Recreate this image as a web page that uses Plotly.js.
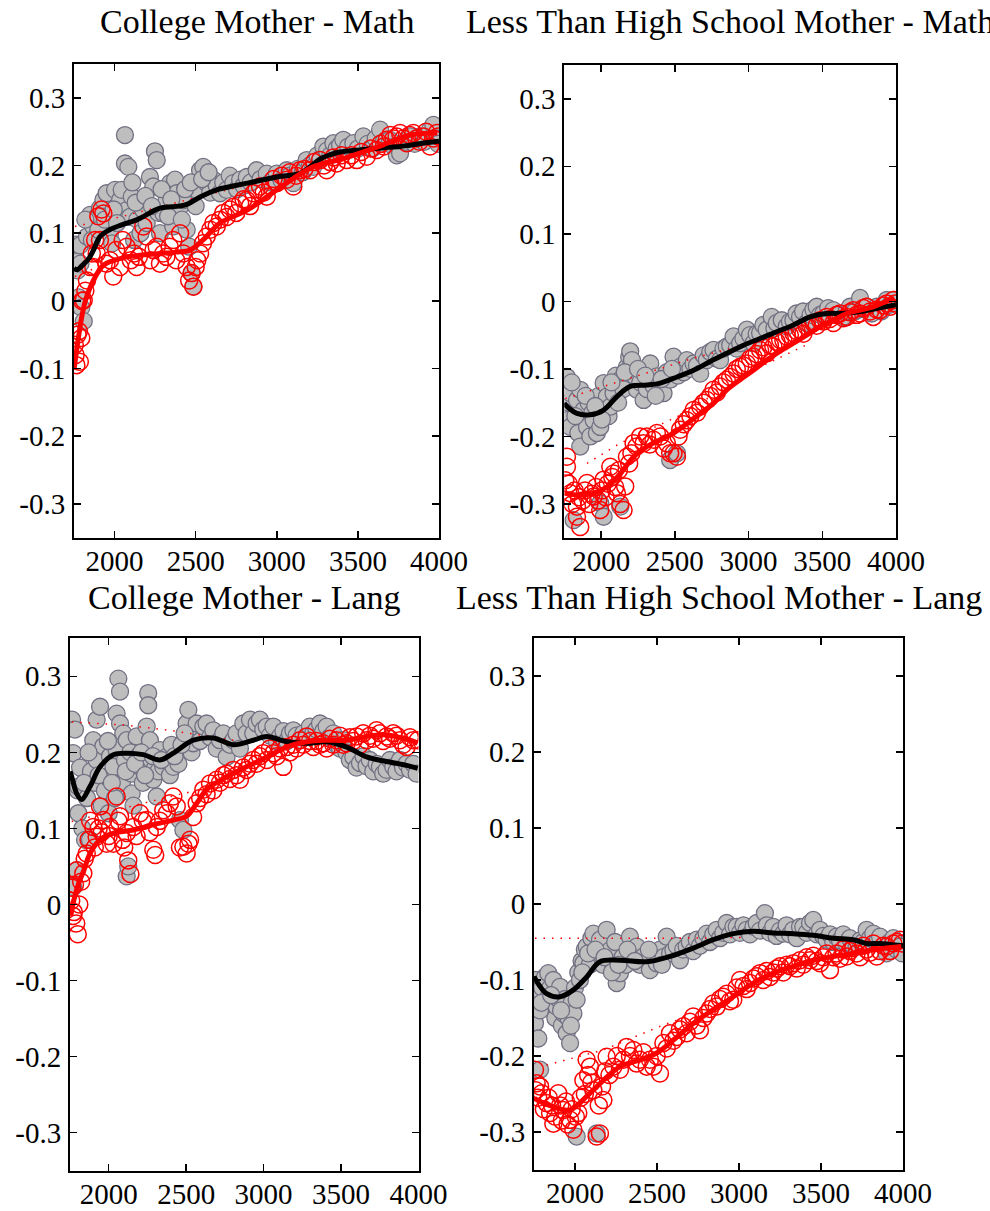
<!DOCTYPE html>
<html>
<head>
<meta charset="utf-8">
<script src="https://cdn.plot.ly/plotly-3.0.1.min.js"></script>
<style>html,body{margin:0;padding:0;background:#fff}#chart{width:990px;height:1211px}</style>
</head>
<body>
<div id="chart"></div>
<script>
// ---------- titles & ticks ----------
const panelTitles = ["College Mother - Math", "Less Than High School Mother - Math", "College Mother - Lang", "Less Than High School Mother - Lang"];
const xTickVals = [2000, 2500, 3000, 3500, 4000];
const yTickVals = [-0.3, -0.2, -0.1, 0, 0.1, 0.2, 0.3];
const yTickText = ["-0.3", "-0.2", "-0.1", "0", "0.1", "0.2", "0.3"];

// ---------- Panel 1: College Mother - Math ----------
const p1GrayX = [1758,1765,1772,1780,1787,1790,1795,1810,1830,1849,1869,1890,1910,1931,1951,1972,1985,2003,2034,2044,2055,2064,2064,2075,2085,2095,2106,2120,2140,2160,2177,2198,2218,2239,2249,2260,2270,2280,2301,2321,2342,2362,2373,2383,2404,2424,2445,2460,2475,2486,2500,2506,2527,2547,2568,2590,2609,2630,2650,2670,2691,2710,2732,2755,2774,2795,2815,2840,2876,2900,2938,2960,3000,3030,3061,3080,3102,3130,3160,3184,3205,3225,3250,3270,3287,3310,3330,3349,3370,3390,3410,3440,3472,3500,3534,3560,3590,3610,3637,3660,3698,3720,3740,3760,3790,3821,3850,3883,3910,3945,3965,3980,3995,1820,1860,1900,1940,1995,2015,2110,2130,2190,2230,2290,2330,2350,2415,2435,2470,2540,2580];
const p1GrayY = [0.060,0.083,0.045,0.005,0.082,0.055,-0.010,-0.030,0.095,0.127,0.110,0.124,0.137,0.149,0.159,0.100,0.085,0.164,0.149,0.164,0.130,0.245,0.203,0.134,0.198,0.124,0.154,0.090,0.120,0.100,0.134,0.115,0.183,0.169,0.221,0.208,0.130,0.100,0.129,0.149,0.174,0.110,0.179,0.159,0.139,0.149,0.105,0.080,0.041,0.021,0.140,0.164,0.193,0.198,0.174,0.160,0.179,0.170,0.159,0.175,0.164,0.185,0.174,0.165,0.179,0.170,0.183,0.175,0.193,0.180,0.188,0.175,0.188,0.178,0.193,0.185,0.174,0.195,0.190,0.208,0.200,0.198,0.215,0.210,0.228,0.222,0.215,0.233,0.225,0.230,0.238,0.228,0.233,0.225,0.243,0.232,0.225,0.240,0.253,0.235,0.238,0.228,0.215,0.218,0.235,0.243,0.232,0.243,0.235,0.253,0.260,0.240,0.232,0.120,0.090,0.105,0.120,0.135,0.115,0.175,0.145,0.155,0.140,0.165,0.125,0.150,0.120,0.165,0.175,0.180,0.190];
const p1RedX = [1755,1760,1765,1772,1780,1786,1795,1800,1810,1820,1830,1849,1860,1869,1880,1890,1900,1910,1920,1931,1950,1972,1992,2010,2034,2050,2075,2100,2120,2136,2150,2177,2198,2220,2240,2260,2280,2300,2320,2340,2362,2380,2404,2424,2445,2460,2475,2486,2500,2510,2527,2545,2568,2590,2609,2630,2650,2670,2691,2710,2732,2750,2774,2795,2815,2835,2856,2875,2897,2920,2938,2960,2980,3000,3030,3061,3080,3102,3120,3143,3170,3205,3230,3266,3290,3308,3330,3349,3369,3400,3431,3460,3493,3520,3554,3580,3616,3640,3660,3678,3700,3720,3739,3760,3780,3801,3820,3842,3860,3880,3904,3920,3945,3965,3986,3995];
const p1RedY = [-0.065,-0.080,-0.095,-0.050,-0.045,-0.090,-0.055,0.000,0.001,0.015,0.030,0.050,0.070,0.050,0.090,0.070,0.125,0.090,0.135,0.129,0.055,0.060,0.036,0.075,0.050,0.090,0.080,0.060,0.070,0.050,0.065,0.110,0.095,0.060,0.075,0.080,0.055,0.070,0.065,0.080,0.090,0.060,0.100,0.070,0.050,0.030,0.041,0.021,0.050,0.060,0.070,0.085,0.095,0.105,0.115,0.110,0.120,0.130,0.124,0.135,0.139,0.130,0.144,0.150,0.149,0.140,0.159,0.165,0.169,0.160,0.154,0.170,0.180,0.174,0.185,0.179,0.190,0.169,0.185,0.193,0.195,0.193,0.205,0.208,0.200,0.193,0.205,0.212,0.203,0.215,0.208,0.215,0.208,0.220,0.213,0.225,0.223,0.232,0.228,0.238,0.245,0.240,0.243,0.248,0.240,0.233,0.245,0.248,0.240,0.235,0.243,0.250,0.228,0.240,0.248,0.243];
const p1BlackX = [1750,1770,1800,1840,1870,1910,1970,2040,2140,2280,2400,2450,2530,2630,2820,3000,3140,3200,3270,3330,3390,3510,3640,3760,3820,3930,4000];
const p1BlackY = [0.048,0.046,0.052,0.062,0.075,0.095,0.105,0.112,0.120,0.137,0.140,0.143,0.154,0.164,0.174,0.183,0.188,0.197,0.210,0.216,0.220,0.223,0.226,0.228,0.230,0.234,0.236];
const p1FitX = [1750,1765,1780,1800,1820,1850,1880,1920,1953,2000,2077,2180,2280,2380,2465,2545,2650,2817,3000,3223,3408,3617,3822,3990];
const p1FitY = [-0.102,-0.075,-0.050,-0.021,0.000,0.020,0.035,0.050,0.056,0.060,0.065,0.068,0.070,0.072,0.075,0.090,0.115,0.134,0.164,0.198,0.210,0.227,0.245,0.248];
const p1DotUX = [1756,2034,2280,2527,2732,2979];
const p1DotUY = [0.110,0.124,0.139,0.154,0.166,0.181];
const p1DotLX = [1756,1850,1950,2100];
const p1DotLY = [0.036,0.045,0.055,0.065];

// ---------- Panel 2: Less Than High School Mother - Math ----------
const p2GrayX = [1755,1768,1768,1780,1791,1791,1813,1836,1845,1858,1858,1870,1881,1904,1915,1926,1940,1949,1971,1985,1994,1994,2017,2017,2039,2050,2062,2084,2100,2130,2130,2150,2175,2190,2197,2209,2225,2243,2265,2288,2310,2333,2355,2378,2400,2423,2445,2468,2468,2491,2514,2520,2536,2560,2581,2605,2627,2650,2672,2695,2717,2740,2762,2785,2807,2830,2852,2875,2898,2920,2943,2965,2988,3010,3033,3055,3078,3100,3123,3157,3175,3191,3225,3259,3280,3304,3325,3349,3370,3394,3420,3440,3462,3485,3507,3540,3575,3610,3643,3665,3688,3720,3756,3780,3801,3835,3869,3900,3937,3960,3982,1800,1825,1895,1960,2005,2070,2115,2160,2250,2300,2370,2410,2480];
const p2GrayY = [-0.115,-0.112,-0.176,-0.150,-0.136,-0.186,-0.324,-0.146,-0.195,-0.131,-0.215,-0.170,-0.161,-0.186,-0.150,-0.200,-0.165,-0.176,-0.195,-0.140,-0.186,-0.299,-0.121,-0.319,-0.141,-0.170,-0.156,-0.136,-0.110,-0.116,-0.304,-0.130,-0.097,-0.082,-0.074,-0.087,-0.110,-0.131,-0.120,-0.146,-0.130,-0.092,-0.125,-0.111,-0.130,-0.136,-0.105,-0.116,-0.235,-0.082,-0.225,-0.110,-0.097,-0.105,-0.087,-0.100,-0.092,-0.095,-0.107,-0.080,-0.087,-0.075,-0.072,-0.085,-0.087,-0.070,-0.067,-0.065,-0.052,-0.070,-0.062,-0.055,-0.042,-0.050,-0.062,-0.048,-0.047,-0.035,-0.042,-0.023,-0.040,-0.032,-0.028,-0.037,-0.030,-0.028,-0.018,-0.023,-0.015,-0.032,-0.020,-0.012,-0.008,-0.020,-0.018,-0.010,-0.013,-0.020,-0.023,-0.015,-0.008,-0.015,0.005,-0.012,-0.008,-0.018,-0.008,-0.015,0.002,-0.005,0.002,-0.120,-0.170,-0.140,-0.155,-0.175,-0.120,-0.150,-0.105,-0.100,-0.110,-0.140,-0.115,-0.100];
const p2RedX = [1757,1768,1768,1780,1791,1805,1820,1836,1836,1850,1858,1875,1890,1904,1920,1935,1949,1965,1980,1994,2005,2017,2030,2045,2062,2075,2084,2095,2107,2120,2130,2152,2163,2175,2190,2205,2220,2240,2265,2288,2310,2330,2355,2378,2401,2425,2446,2468,2491,2514,2525,2536,2560,2581,2605,2627,2650,2672,2695,2717,2740,2762,2785,2807,2830,2852,2875,2898,2920,2943,2965,2988,3010,3033,3055,3078,3100,3123,3145,3168,3190,3214,3236,3259,3280,3304,3326,3349,3372,3394,3417,3440,3462,3485,3507,3530,3552,3575,3598,3620,3643,3666,3688,3711,3733,3756,3778,3801,3824,3846,3869,3892,3915,3937,3960,3982,3995];
const p2RedY = [-0.265,-0.230,-0.245,-0.270,-0.284,-0.300,-0.280,-0.304,-0.319,-0.290,-0.334,-0.295,-0.280,-0.269,-0.300,-0.285,-0.289,-0.275,-0.295,-0.309,-0.280,-0.264,-0.290,-0.270,-0.245,-0.260,-0.255,-0.275,-0.284,-0.250,-0.300,-0.309,-0.274,-0.230,-0.240,-0.225,-0.210,-0.215,-0.200,-0.210,-0.200,-0.212,-0.205,-0.195,-0.200,-0.218,-0.210,-0.225,-0.225,-0.230,-0.200,-0.190,-0.182,-0.176,-0.170,-0.161,-0.165,-0.156,-0.150,-0.146,-0.140,-0.131,-0.135,-0.126,-0.120,-0.116,-0.112,-0.107,-0.100,-0.097,-0.095,-0.092,-0.085,-0.082,-0.078,-0.072,-0.068,-0.077,-0.065,-0.067,-0.060,-0.057,-0.058,-0.052,-0.050,-0.047,-0.044,-0.042,-0.048,-0.037,-0.035,-0.032,-0.036,-0.028,-0.030,-0.023,-0.026,-0.032,-0.020,-0.018,-0.025,-0.023,-0.016,-0.013,-0.020,-0.018,-0.010,-0.008,-0.015,-0.023,-0.012,-0.013,-0.006,-0.003,-0.008,0.002,-0.003];
const p2BlackX = [1750,1757,1836,1926,2017,2107,2197,2310,2401,2514,2627,2740,2852,2965,3078,3191,3304,3417,3530,3643,3756,3880,4000];
const p2BlackY = [-0.150,-0.153,-0.166,-0.168,-0.161,-0.141,-0.126,-0.124,-0.121,-0.112,-0.102,-0.089,-0.077,-0.065,-0.055,-0.045,-0.035,-0.023,-0.018,-0.018,-0.015,-0.010,-0.005];
const p2FitX = [1750,1858,1949,2039,2130,2220,2310,2401,2491,2581,2672,2762,2852,2943,3033,3123,3214,3304,3394,3485,3575,3666,3756,3846,3937,3990];
const p2FitY = [-0.284,-0.287,-0.284,-0.275,-0.255,-0.230,-0.215,-0.205,-0.195,-0.181,-0.166,-0.151,-0.131,-0.116,-0.102,-0.087,-0.074,-0.062,-0.050,-0.037,-0.028,-0.018,-0.013,-0.008,0.000,0.004];
const p2DotUX = [1757,1949,2288,2627,2965,3304];
const p2DotUY = [-0.144,-0.131,-0.107,-0.084,-0.065,-0.042];
const p2DotLX = [1904,2130,2514,2852,3078,3417];
const p2DotLY = [-0.240,-0.210,-0.171,-0.126,-0.097,-0.062];

// ---------- Panel 3: College Mother - Lang ----------
const p3GrayX = [1763,1771,1771,1782,1793,1800,1804,1804,1815,1830,1847,1860,1879,1885,1900,1910,1922,1922,1944,1955,1965,1975,1987,2000,2008,2030,2040,2051,2051,2062,2073,2073,2085,2094,2105,2116,2116,2126,2140,2148,2148,2160,2180,2190,2202,2220,2245,2255,2255,2266,2275,2288,2300,2310,2320,2331,2352,2374,2395,2417,2439,2450,2460,2482,2503,2514,2525,2535,2546,2568,2590,2611,2632,2655,2675,2697,2718,2740,2761,2782,2804,2825,2847,2869,2890,2912,2933,2955,2976,2998,3020,3041,3063,3085,3106,3128,3150,3170,3192,3213,3235,3256,3278,3299,3320,3342,3364,3385,3407,3428,3450,3471,3493,3514,3535,3557,3579,3600,3622,3645,3665,3686,3708,3730,3751,3772,3794,3815,3837,3858,3880,3900,3923,3945,3966,3988,1840,1870,1935,1995,2020,2110,2170,2210,2235,2285,2340,2405,2425,2470,2490];
const p3GrayY = [0.243,0.199,0.023,0.230,0.045,0.150,0.155,0.120,0.180,0.100,0.085,0.140,0.085,0.175,0.216,0.160,0.243,0.190,0.260,0.130,0.208,0.150,0.168,0.120,0.195,0.181,0.140,0.203,0.251,0.297,0.280,0.238,0.160,0.225,0.190,0.216,0.037,0.050,0.200,0.172,0.146,0.130,0.221,0.195,0.181,0.160,0.234,0.278,0.262,0.216,0.190,0.164,0.180,0.142,0.175,0.203,0.181,0.194,0.170,0.181,0.203,0.185,0.111,0.098,0.238,0.256,0.225,0.200,0.212,0.238,0.215,0.234,0.238,0.220,0.229,0.205,0.216,0.225,0.194,0.210,0.216,0.225,0.205,0.238,0.225,0.243,0.225,0.238,0.243,0.230,0.234,0.222,0.234,0.215,0.221,0.228,0.215,0.225,0.229,0.222,0.216,0.225,0.220,0.234,0.225,0.230,0.238,0.228,0.234,0.220,0.225,0.210,0.205,0.216,0.200,0.190,0.194,0.180,0.186,0.195,0.182,0.190,0.175,0.185,0.181,0.172,0.177,0.190,0.181,0.175,0.190,0.180,0.185,0.177,0.185,0.172,0.160,0.200,0.170,0.215,0.160,0.175,0.185,0.200,0.170,0.195,0.190,0.210,0.195,0.210,0.225];
const p3RedX = [1758,1763,1770,1775,1782,1790,1793,1800,1810,1822,1836,1845,1858,1870,1880,1900,1910,1922,1935,1944,1955,1965,1987,2000,2008,2030,2051,2062,2073,2090,2100,2116,2126,2140,2159,2180,2202,2220,2245,2265,2288,2300,2310,2330,2352,2375,2395,2417,2439,2460,2482,2503,2515,2525,2545,2568,2590,2611,2632,2654,2675,2697,2718,2740,2761,2782,2804,2825,2847,2868,2890,2912,2933,2955,2976,2998,3020,3041,3063,3085,3106,3127,3149,3170,3192,3213,3235,3256,3278,3300,3321,3342,3364,3385,3407,3428,3450,3471,3493,3514,3536,3557,3579,3600,3622,3643,3665,3686,3708,3729,3751,3772,3794,3815,3837,3858,3880,3901,3923,3945,3966,3995];
const p3RedY = [0.005,0.022,-0.015,-0.010,0.026,-0.025,0.045,-0.039,0.000,0.030,0.041,0.060,0.067,0.085,0.110,0.102,0.075,0.089,0.100,0.129,0.095,0.111,0.080,0.090,0.102,0.080,0.142,0.110,0.116,0.085,0.075,0.094,0.058,0.040,0.102,0.090,0.120,0.110,0.111,0.095,0.072,0.065,0.102,0.110,0.124,0.120,0.133,0.142,0.129,0.075,0.076,0.067,0.080,0.085,0.115,0.133,0.140,0.151,0.145,0.159,0.150,0.164,0.160,0.170,0.172,0.165,0.177,0.170,0.164,0.180,0.177,0.185,0.190,0.185,0.195,0.199,0.190,0.205,0.199,0.195,0.205,0.181,0.207,0.200,0.210,0.205,0.216,0.210,0.221,0.215,0.207,0.215,0.210,0.212,0.205,0.218,0.210,0.216,0.222,0.210,0.212,0.220,0.215,0.221,0.210,0.225,0.216,0.222,0.218,0.229,0.225,0.215,0.221,0.218,0.225,0.222,0.216,0.210,0.207,0.220,0.216,0.216];
const p3BlackX = [1750,1761,1793,1825,1879,1944,2030,2116,2223,2331,2417,2546,2675,2804,2933,3020,3149,3278,3407,3536,3665,3794,3923,3995];
const p3BlackY = [0.175,0.168,0.146,0.138,0.155,0.181,0.197,0.199,0.197,0.190,0.199,0.216,0.219,0.210,0.216,0.221,0.214,0.212,0.214,0.207,0.194,0.188,0.183,0.179];
const p3FitX = [1755,1780,1810,1840,1879,1944,2030,2159,2288,2417,2503,2568,2632,2761,2890,3020,3149,3278,3407,3536,3665,3794,3945,3995];
const p3FitY = [-0.015,0.010,0.030,0.045,0.067,0.085,0.094,0.098,0.105,0.111,0.116,0.133,0.151,0.168,0.181,0.194,0.207,0.214,0.216,0.216,0.221,0.223,0.216,0.212];
const p3DotUX = [1761,2100,2395,2804];
const p3DotUY = [0.240,0.236,0.229,0.216];
const p3DotLX = [1761,2180,2525];
const p3DotLY = [0.109,0.131,0.148];

// ---------- Panel 4: Less Than High School Mother - Lang ----------
const p4GrayX = [1756,1760,1766,1776,1787,1787,1800,1817,1830,1837,1850,1868,1880,1888,1900,1909,1920,1929,1940,1949,1960,1970,1980,1990,2000,2010,2010,2020,2030,2040,2051,2060,2071,2090,2100,2112,2132,2140,2152,2170,2193,2205,2213,2234,2245,2254,2274,2290,2310,2335,2355,2376,2396,2417,2437,2457,2478,2498,2518,2539,2559,2580,2600,2620,2640,2660,2681,2700,2721,2742,2762,2783,2803,2823,2843,2864,2884,2904,2925,2945,2966,2986,3006,3027,3047,3067,3088,3108,3128,3158,3170,3189,3209,3229,3250,3270,3290,3311,3331,3352,3372,3392,3413,3433,3453,3474,3494,3514,3534,3555,3575,3595,3616,3636,3656,3676,3697,3717,3738,3758,3778,3799,3819,3840,3860,3880,3900,3921,3941,3962,3982,3995,1795,1855,1915,1975,2045,2080,2125,2180,2225,2265,2320,2365,2450,2530];
const p4GrayY = [-0.157,-0.100,-0.125,-0.177,-0.140,-0.218,-0.110,-0.096,-0.125,-0.091,-0.110,-0.100,-0.150,-0.135,-0.125,-0.109,-0.160,-0.144,-0.125,-0.170,-0.150,-0.183,-0.130,-0.144,-0.110,-0.126,-0.306,-0.090,-0.100,-0.075,-0.078,-0.060,-0.056,-0.080,-0.045,-0.039,-0.302,-0.065,-0.047,-0.080,-0.034,-0.070,-0.061,-0.082,-0.050,-0.104,-0.091,-0.070,-0.080,-0.043,-0.065,-0.056,-0.080,-0.069,-0.075,-0.087,-0.065,-0.078,-0.060,-0.070,-0.043,-0.065,-0.061,-0.055,-0.074,-0.060,-0.056,-0.050,-0.062,-0.047,-0.055,-0.045,-0.039,-0.050,-0.040,-0.034,-0.045,-0.038,-0.025,-0.040,-0.030,-0.030,-0.038,-0.028,-0.034,-0.040,-0.030,-0.025,-0.035,-0.012,-0.028,-0.038,-0.030,-0.042,-0.035,-0.039,-0.028,-0.040,-0.034,-0.045,-0.030,-0.030,-0.038,-0.025,-0.021,-0.040,-0.034,-0.042,-0.047,-0.040,-0.050,-0.043,-0.048,-0.040,-0.052,-0.045,-0.055,-0.056,-0.048,-0.050,-0.034,-0.045,-0.039,-0.050,-0.043,-0.055,-0.065,-0.050,-0.045,-0.060,-0.056,-0.065,-0.130,-0.120,-0.140,-0.160,-0.090,-0.065,-0.060,-0.070,-0.090,-0.080,-0.060,-0.075,-0.060,-0.080];
const p4RedX = [1756,1760,1766,1776,1787,1797,1810,1827,1840,1848,1860,1868,1880,1898,1910,1920,1929,1945,1955,1970,1980,1990,2005,2020,2035,2051,2060,2071,2080,2091,2100,2112,2132,2145,2152,2165,2173,2185,2193,2210,2234,2255,2274,2295,2315,2335,2356,2376,2396,2417,2437,2457,2478,2498,2518,2539,2559,2579,2600,2620,2640,2661,2681,2701,2721,2742,2762,2783,2803,2823,2843,2864,2884,2904,2925,2945,2965,2986,3006,3027,3047,3067,3088,3108,3128,3148,3169,3189,3209,3230,3250,3270,3291,3311,3331,3352,3372,3392,3413,3433,3453,3474,3494,3514,3535,3555,3575,3595,3616,3636,3656,3676,3697,3717,3738,3758,3778,3799,3819,3840,3860,3880,3900,3921,3941,3962,3982,3995];
const p4RedY = [-0.218,-0.245,-0.236,-0.255,-0.240,-0.249,-0.270,-0.262,-0.255,-0.275,-0.265,-0.289,-0.280,-0.249,-0.265,-0.285,-0.271,-0.260,-0.290,-0.284,-0.270,-0.297,-0.280,-0.275,-0.255,-0.232,-0.250,-0.205,-0.225,-0.214,-0.235,-0.245,-0.306,-0.265,-0.302,-0.240,-0.258,-0.220,-0.201,-0.225,-0.214,-0.200,-0.218,-0.205,-0.188,-0.200,-0.192,-0.210,-0.205,-0.195,-0.214,-0.205,-0.214,-0.200,-0.223,-0.183,-0.190,-0.170,-0.180,-0.175,-0.165,-0.161,-0.170,-0.155,-0.148,-0.160,-0.166,-0.150,-0.144,-0.138,-0.131,-0.135,-0.125,-0.122,-0.118,-0.128,-0.126,-0.110,-0.100,-0.108,-0.112,-0.104,-0.098,-0.095,-0.091,-0.100,-0.088,-0.096,-0.090,-0.085,-0.082,-0.090,-0.080,-0.082,-0.078,-0.085,-0.074,-0.080,-0.070,-0.074,-0.068,-0.075,-0.078,-0.070,-0.065,-0.087,-0.070,-0.065,-0.072,-0.060,-0.069,-0.062,-0.058,-0.065,-0.070,-0.055,-0.060,-0.064,-0.052,-0.069,-0.062,-0.055,-0.056,-0.062,-0.052,-0.050,-0.047,-0.052];
const p4BlackX = [1750,1756,1827,1908,1990,2071,2152,2274,2437,2579,2721,2843,2965,3087,3209,3331,3453,3575,3697,3778,3860,3950,4000];
const p4BlackY = [-0.095,-0.098,-0.118,-0.122,-0.113,-0.096,-0.076,-0.074,-0.076,-0.069,-0.058,-0.047,-0.039,-0.036,-0.038,-0.039,-0.041,-0.045,-0.047,-0.052,-0.052,-0.054,-0.055];
const p4FitX = [1750,1756,1868,1969,2071,2173,2274,2396,2498,2600,2721,2843,2965,3087,3209,3331,3453,3575,3697,3819,3900,3990];
const p4FitY = [-0.254,-0.256,-0.267,-0.271,-0.253,-0.232,-0.214,-0.205,-0.196,-0.179,-0.157,-0.139,-0.122,-0.104,-0.091,-0.082,-0.074,-0.069,-0.065,-0.060,-0.058,-0.056];
const p4DotUX = [1756,2200,2620,3047];
const p4DotUY = [-0.045,-0.045,-0.045,-0.044];
const p4DotLX = [1827,2173,2518,2620];
const p4DotLY = [-0.212,-0.192,-0.161,-0.153];

// ---------- build ----------
const panels = [
  {gx:p1GrayX, gy:p1GrayY, rx:p1RedX, ry:p1RedY, bx:p1BlackX, by:p1BlackY, fx:p1FitX, fy:p1FitY, dux:p1DotUX, duy:p1DotUY, dlx:p1DotLX, dly:p1DotLY},
  {gx:p2GrayX, gy:p2GrayY, rx:p2RedX, ry:p2RedY, bx:p2BlackX, by:p2BlackY, fx:p2FitX, fy:p2FitY, dux:p2DotUX, duy:p2DotUY, dlx:p2DotLX, dly:p2DotLY},
  {gx:p3GrayX, gy:p3GrayY, rx:p3RedX, ry:p3RedY, bx:p3BlackX, by:p3BlackY, fx:p3FitX, fy:p3FitY, dux:p3DotUX, duy:p3DotUY, dlx:p3DotLX, dly:p3DotLY},
  {gx:p4GrayX, gy:p4GrayY, rx:p4RedX, ry:p4RedY, bx:p4BlackX, by:p4BlackY, fx:p4FitX, fy:p4FitY, dux:p4DotUX, duy:p4DotUY, dlx:p4DotLX, dly:p4DotLY}
];

// pixel boxes of each plot area [left, right, top, bottom]
const W = 990, H = 1211;
const boxes = [[74,439,64,537.7],[564.3,896,65,537.7],[70,418.5,638.3,1170.7],[534,903,638,1170]];
const titleY = [22, 22, 597, 597];

const FONT = "Liberation Serif, Times New Roman, serif";
const traces = [];
panels.forEach((p, i) => {
  const xa = i === 0 ? 'x' : 'x' + (i + 1);
  const ya = i === 0 ? 'y' : 'y' + (i + 1);
  traces.push({type:'scatter', mode:'markers', x:p.gx, y:p.gy, xaxis:xa, yaxis:ya,
    marker:{symbol:'circle', size:17, color:'rgb(190,190,190)', line:{color:'rgb(112,112,130)', width:1.3}}, hoverinfo:'skip'});
  traces.push({type:'scatter', mode:'markers', x:p.rx, y:p.ry, xaxis:xa, yaxis:ya,
    marker:{symbol:'circle-open', size:17, color:'rgb(255,0,0)', line:{color:'rgb(255,0,0)', width:1.5}}, hoverinfo:'skip'});
  traces.push({type:'scatter', mode:'lines', x:p.dux, y:p.duy, xaxis:xa, yaxis:ya,
    line:{color:'rgb(255,0,0)', width:1.5, dash:'1.5px,7px'}, hoverinfo:'skip'});
  traces.push({type:'scatter', mode:'lines', x:p.dlx, y:p.dly, xaxis:xa, yaxis:ya,
    line:{color:'rgb(255,0,0)', width:1.5, dash:'1.5px,7px'}, hoverinfo:'skip'});
  traces.push({type:'scatter', mode:'lines', x:p.bx, y:p.by, xaxis:xa, yaxis:ya,
    line:{color:'#000', width:5, shape:'spline', smoothing:1}, hoverinfo:'skip'});
  traces.push({type:'scatter', mode:'lines', x:p.fx, y:p.fy, xaxis:xa, yaxis:ya,
    line:{color:'rgb(255,0,0)', width:5, shape:'spline', smoothing:1}, hoverinfo:'skip'});
});

const layout = {
  width: W, height: H, margin:{l:0, r:0, t:0, b:0},
  paper_bgcolor:'#fff', plot_bgcolor:'#fff', showlegend:false,
  font:{family:FONT, color:'#000'},
  annotations: []
};
boxes.forEach((b, i) => {
  const sfx = i === 0 ? '' : String(i + 1);
  const yname = i === 0 ? 'y' : 'y' + (i + 1);
  const xname = i === 0 ? 'x' : 'x' + (i + 1);
  layout['xaxis' + sfx] = {
    domain:[b[0]/W, b[1]/W], anchor:yname, range:[1750, 4000],
    tickvals:xTickVals, ticktext:xTickVals.map(String),
    ticks:'inside', ticklen:7, tickwidth:1.5, tickcolor:'#000',
    showline:true, linecolor:'#000', linewidth:2, mirror:'ticks',
    showgrid:false, zeroline:false, ticklabelstandoff:-4,
    tickfont:{family:FONT, size:29, color:'#000'}
  };
  layout['yaxis' + sfx] = {
    domain:[1 - b[3]/H, 1 - b[2]/H], anchor:xname, range:[-0.35, 0.35],
    tickvals:yTickVals, ticktext:yTickText,
    ticks:'inside', ticklen:7, tickwidth:1.5, tickcolor:'#000',
    showline:true, linecolor:'#000', linewidth:2, mirror:'ticks',
    showgrid:false, zeroline:false, ticklabelstandoff:1,
    tickfont:{family:FONT, size:29, color:'#000'}
  };
  layout.annotations.push({
    text: panelTitles[i], xref:'paper', yref:'paper',
    x:(b[0] + b[1]) / 2 / W, y:1 - titleY[i] / H, xanchor:'center', yanchor:'middle',
    showarrow:false, font:{family:FONT, size:34, color:'#000'}
  });
});

Plotly.newPlot('chart', traces, layout, {staticPlot:true, displayModeBar:false});
</script>
</body>
</html>
